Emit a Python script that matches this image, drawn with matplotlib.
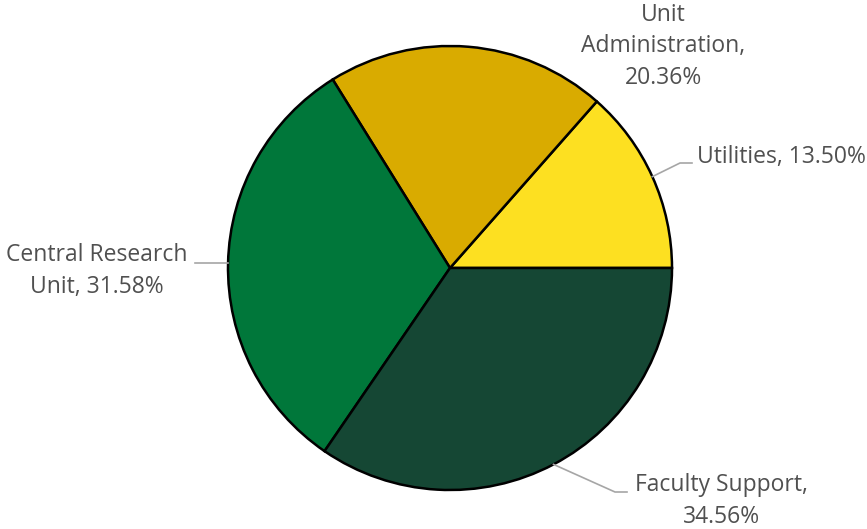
import numpy as np
import matplotlib
matplotlib.use("Agg")
import matplotlib.pyplot as plt

categories = ["Utilities", "Unit Administration", "Central Research Unit", "Faculty Support"]
values = [13.50, 20.36, 31.58, 34.56]
colors = ["#FDE021", "#D9AB00", "#00773A", "#154734"]

W, H = 867, 529
fig = plt.figure(figsize=(W / 100, H / 100), dpi=100)
ax = fig.add_axes([0, 0, 1, 1])

cx, cy, r = 450, H - 268, 222
wedges, _ = ax.pie(values, colors=colors, startangle=0, counterclock=True,
                   center=(cx, cy), radius=r, frame=True,
                   wedgeprops=dict(edgecolor="black", linewidth=1.8))
ax.set_xlim(0, W)
ax.set_ylim(0, H)
ax.set_aspect("equal")
ax.axis("off")

font = dict(family=["Open Sans", "DejaVu Sans"], fontsize=16.5, color="#505050")
lc = "#A6A6A6"

def edge_pt(w):
    a = np.deg2rad((w.theta1 + w.theta2) / 2)
    return cx + r * np.cos(a), cy + r * np.sin(a)

# Utilities
x0, y0 = edge_pt(wedges[0])
ax.plot([x0, 680, 692], [y0, H - 163, H - 163], color=lc, lw=1.2)
ax.text(697, H - 157, f"{categories[0]}, {values[0]:.2f}%", ha="left", va="center", **font)

# Unit Administration
ax.text(663, H - 15, "Unit", ha="center", va="center", **font)
ax.text(663, H - 46, "Administration,", ha="center", va="center", **font)
ax.text(663, H - 78, f"{values[1]:.2f}%", ha="center", va="center", **font)

# Central Research Unit
x0, y0 = edge_pt(wedges[2])
ax.plot([x0, 195], [y0, y0], color=lc, lw=1.2)
ax.text(97, H - 255, "Central Research", ha="center", va="center", **font)
ax.text(97, H - 287, f"Unit, {values[2]:.2f}%", ha="center", va="center", **font)

# Faculty Support
x0, y0 = edge_pt(wedges[3])
ax.plot([x0, 615, 627], [y0, H - 492, H - 492], color=lc, lw=1.2)
ax.text(721, H - 485, "Faculty Support,", ha="center", va="center", **font)
ax.text(721, H - 517, f"{values[3]:.2f}%", ha="center", va="center", **font)

fig.savefig("out.png", dpi=100)
